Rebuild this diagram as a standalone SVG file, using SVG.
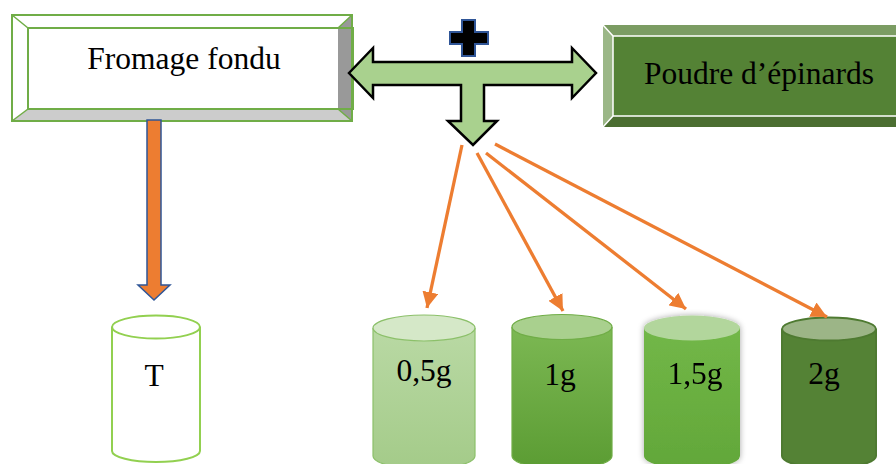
<svg xmlns="http://www.w3.org/2000/svg" width="896" height="464" viewBox="0 0 896 464">
<defs>
<style>
.lbl{font-family:"Liberation Serif","Times New Roman",serif;font-size:31.5px;fill:#000;text-anchor:middle}
.conn{stroke:#ed7d31;stroke-width:3.3;fill:none}
</style>
<marker id="ah" markerUnits="userSpaceOnUse" markerWidth="18" markerHeight="16" refX="16" refY="8" orient="auto">
<path d="M0,0 L16,8 L0,16 z" fill="#ed7d31"/>
</marker>
<linearGradient id="g05" x1="0" y1="0" x2="0" y2="1"><stop offset="0" stop-color="#b9d9a4"/><stop offset="1" stop-color="#a4cb89"/></linearGradient>
<linearGradient id="g1" x1="0" y1="0" x2="0" y2="1"><stop offset="0" stop-color="#7cb853"/><stop offset="1" stop-color="#5b9c33"/></linearGradient>
<linearGradient id="g15" x1="0" y1="0" x2="0" y2="1"><stop offset="0" stop-color="#72b748"/><stop offset="1" stop-color="#62a739"/></linearGradient>
<filter id="glow" x="-20%" y="-20%" width="140%" height="140%"><feGaussianBlur in="SourceAlpha" stdDeviation="3"/><feComponentTransfer><feFuncA type="linear" slope="0.35"/></feComponentTransfer><feMerge><feMergeNode/><feMergeNode in="SourceGraphic"/></feMerge></filter>
</defs>
<rect width="896" height="464" fill="#fff"/>

<g id="fromage">
<rect x="12" y="15" width="340" height="106" fill="#fff"/>
<polygon points="338,28 352,15 352,121 338,109" fill="#999"/>
<polygon points="12,121 28,109 338,109 352,121" fill="#ccc"/>
<rect x="12" y="15" width="340" height="106" fill="none" stroke="#70ad47" stroke-width="2"/>
<path d="M12,15 L28,28 M352,15 L338,28 M12,121 L28,109 M352,121 L338,109" stroke="#70ad47" stroke-width="1.5"/>
<rect x="28" y="28" width="325" height="81" fill="none" stroke="#70ad47" stroke-width="2"/>
<text class="lbl" x="184" y="69">Fromage fondu</text>
</g>

<g id="poudre">
<polygon points="603,25 910,25 910,127 603,127" fill="#4b6e31"/>
<polygon points="603,25 910,25 910,36 613,36" fill="#7b9c63"/>
<polygon points="603,25 613,36 613,116 603,127" fill="#9bb787"/>
<rect x="613" y="36" width="300" height="80" fill="#548235" stroke="#fff" stroke-width="1.5"/>
<path d="M603,25 L613,36 M603,127 L613,116" stroke="#fff" stroke-width="1.5"/>
<text class="lbl" x="759" y="84">Poudre d’épinards</text>
</g>

<g id="plus">
<path d="M462,20 H475 V32 H488 V44 H475 V56 H462 V44 H450 V32 H462 Z" fill="#000" stroke="#2f5597" stroke-width="2" stroke-linejoin="miter"/>
</g>

<g id="cyl-T">
<path d="M112,327 V451 A44,11 0 0 0 200,451 V327" fill="#fff" stroke="#92d050" stroke-width="2"/>
<ellipse cx="156" cy="327" rx="44" ry="11.5" fill="#fff" stroke="#92d050" stroke-width="2"/>
<text class="lbl" x="154" y="386">T</text>
</g>

<g id="cyl-05">
<path d="M373,328 V456 A51,13 0 0 0 475,456 V328" fill="url(#g05)" stroke="#8cc06a" stroke-width="1.2"/>
<ellipse cx="424" cy="328" rx="51" ry="13" fill="#d5e8c8" stroke="#8cc06a" stroke-width="1.2"/>
<text class="lbl" x="424" y="381">0,5g</text>
</g>

<g id="cyl-1">
<path d="M512,327 V456 A50,13 0 0 0 612,456 V327" fill="url(#g1)" stroke="#70ad47" stroke-width="1.2"/>
<ellipse cx="562" cy="327" rx="50" ry="12.5" fill="#a9d08e" stroke="#70ad47" stroke-width="1.2"/>
<text class="lbl" x="560" y="385">1g</text>
</g>

<g id="cyl-15" filter="url(#glow)">
<path d="M644,328 V456 A48,13 0 0 0 740,456 V328" fill="url(#g15)"/>
<ellipse cx="692" cy="328" rx="48" ry="12.5" fill="#b2d69c"/>
<text class="lbl" x="695" y="384">1,5g</text>
</g>

<g id="cyl-2">
<path d="M782,329 V456 A47,12 0 0 0 876,456 V329" fill="#548235" stroke="#4e7a31" stroke-width="2"/>
<ellipse cx="829" cy="329" rx="47" ry="11.5" fill="#9cb587" stroke="#4e7a31" stroke-width="2"/>
<text class="lbl" x="824" y="384">2g</text>
</g>

<g id="connectors">
<polygon points="349,73 373,48 373,62 572,62 572,48 596,73 572,98 572,85 484,85 484,121 497,121 473,145 448,121 461,121 461,85 373,85 373,98" fill="#a9d18e" stroke="#000" stroke-width="2.5" stroke-linejoin="miter"/>
<polygon points="147,120 161,120 161,285 170,285 154,300 138,285 147,285" fill="#ed7d31" stroke="#2f5597" stroke-width="1.5"/>
<line class="conn" x1="462" y1="145" x2="427" y2="308" marker-end="url(#ah)"/>
<line class="conn" x1="477" y1="153" x2="563" y2="311" marker-end="url(#ah)"/>
<line class="conn" x1="486" y1="153" x2="686" y2="309" marker-end="url(#ah)"/>
<line class="conn" x1="495" y1="144" x2="827" y2="317" marker-end="url(#ah)"/>
</g>
</svg>
